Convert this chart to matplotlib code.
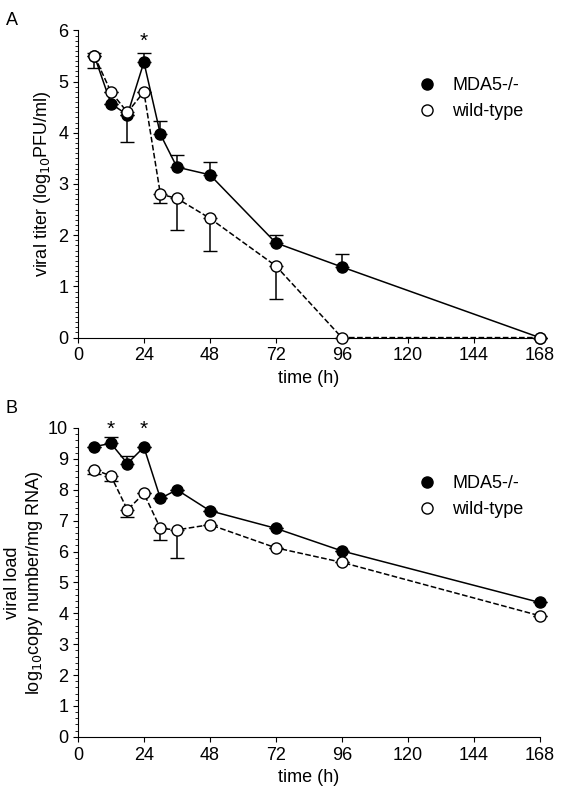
import numpy as np
import matplotlib.pyplot as plt
from matplotlib.ticker import MultipleLocator
from matplotlib.lines import Line2D

plt.rcParams['font.family'] = ['Liberation Sans', 'DejaVu Sans']

t = np.array([6, 12, 18, 24, 30, 36, 48, 72, 96, 168])

# panel A: viral titer
a_mda = np.array([5.5, 4.57, 4.35, 5.38, 3.97, 3.33, 3.18, 1.85, 1.38, 0.0])
a_mda_err = np.array([0.06, 0.0, 0.0, 0.17, 0.26, 0.23, 0.24, 0.15, 0.25, 0.0])
a_wt = np.array([5.5, 4.8, 4.4, 4.8, 2.8, 2.72, 2.33, 1.4, 0.0, 0.0])
a_wt_err = np.array([0.24, 0.0, 0.57, 0.0, 0.17, 0.62, 0.63, 0.65, 0.0, 0.0])

# panel B: viral load
b_mda = np.array([9.4, 9.5, 8.85, 9.38, 7.72, 8.0, 7.32, 6.75, 6.02, 4.35])
b_mda_err = np.array([0.0, 0.22, 0.25, 0.0, 0.0, 0.0, 0.0, 0.0, 0.0, 0.0])
b_wt = np.array([8.65, 8.45, 7.35, 7.88, 6.75, 6.7, 6.87, 6.12, 5.65, 3.92])
b_wt_err = np.array([0.15, 0.18, 0.23, 0.0, 0.38, 0.9, 0.0, 0.0, 0.0, 0.0])

fig = plt.figure(figsize=(5.73, 8), dpi=100)
axA = fig.add_axes([0.136, 0.578, 0.806, 0.384])
axB = fig.add_axes([0.136, 0.079, 0.806, 0.386])

def draw(ax, mda, mda_err, wt, wt_err, ymax, stars):
    z = np.zeros_like(mda)
    ax.errorbar(t, mda, yerr=[z, mda_err], color='black', marker='o', ms=8,
                mfc='black', lw=1.1, capsize=5, elinewidth=1.1, clip_on=False, zorder=3)
    ax.errorbar(t, wt, yerr=[wt_err, z], color='black', marker='o', ms=8,
                mfc='white', ls='--', lw=1.1, capsize=5, elinewidth=1.1, clip_on=False, zorder=4)
    for x, y in stars:
        ax.text(x, y, '*', ha='center', va='center', fontsize=15)
    ax.set_xlim(0, 168)
    ax.set_ylim(0, ymax)
    ax.set_xticks(np.arange(0, 169, 24))
    ax.yaxis.set_major_locator(MultipleLocator(1))
    ax.yaxis.set_minor_locator(MultipleLocator(0.1 if ymax == 6 else 0.2))
    for s in ['top', 'right']:
        ax.spines[s].set_visible(False)
    ax.tick_params(labelsize=13)
    ax.set_xlabel('time (h)', fontsize=13)
    handles = [Line2D([], [], color='black', marker='o', ms=8, mfc='black', ls='none'),
               Line2D([], [], color='black', marker='o', ms=8, mfc='white', ls='none')]
    ax.legend(handles, ['MDA5-/-', 'wild-type'], frameon=False, fontsize=13,
              loc='upper right', bbox_to_anchor=(1.0, 0.9), handletextpad=0.4)

draw(axA, a_mda, a_mda_err, a_wt, a_wt_err, 6, [(24, 5.78)])
draw(axB, b_mda, b_mda_err, b_wt, b_wt_err, 10, [(12, 9.97), (24, 9.97)])
axA.set_ylabel('viral titer (log$_{10}$PFU/ml)', fontsize=13)
axB.set_ylabel('viral load\nlog$_{10}$copy number/mg RNA)', fontsize=13, labelpad=2)
fig.text(0.01, 0.985, 'A', fontsize=13, va='top')
fig.text(0.01, 0.5, 'B', fontsize=13, va='top')
fig.savefig('out.png', dpi=100)
